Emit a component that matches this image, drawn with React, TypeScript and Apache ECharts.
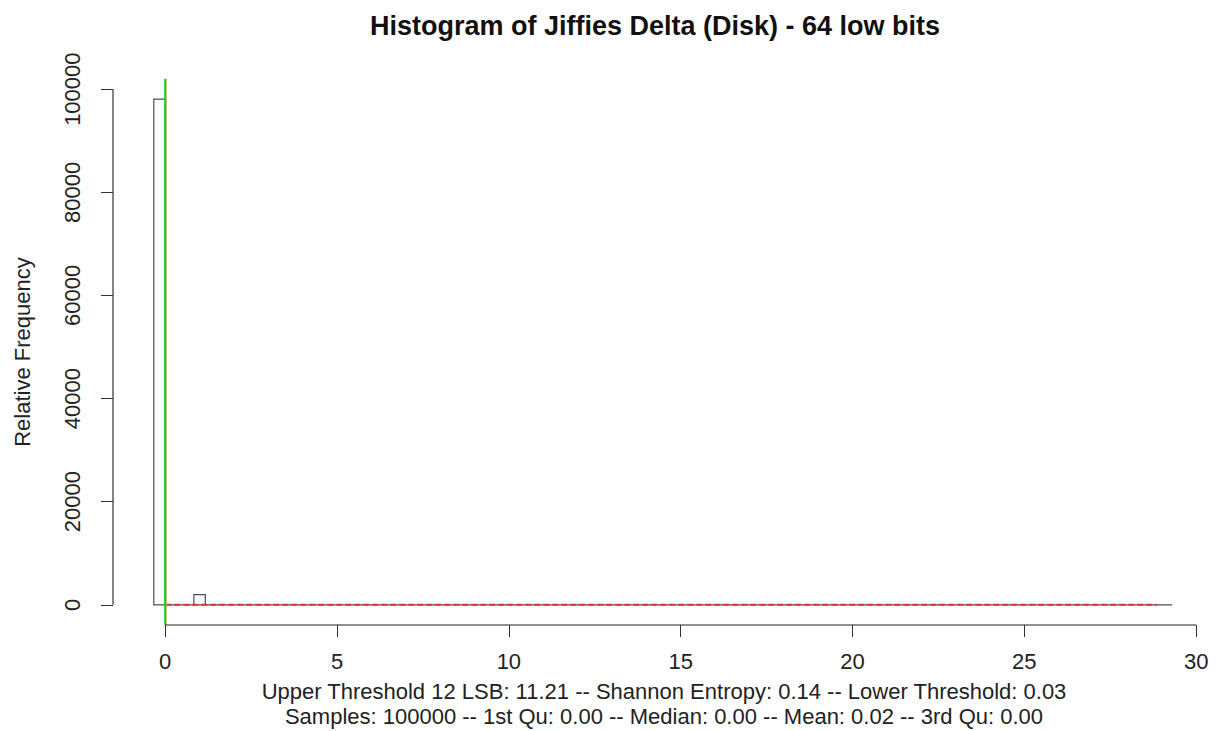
import React, { useEffect, useRef } from "react";
import * as echarts from "echarts";

const binLeft = [-0.333, 0, 0.833, 1.167];
const binRight = [0, 0.833, 1.167, 29.3];
const counts = [98050, 0, 1950, 0];

const xTicks = [0, 5, 10, 15, 20, 25, 30];
const yTicks = [0, 20000, 40000, 60000, 80000, 100000];

const densityLine = [
  [0, 0],
  [28.85, 0],
];
const medianX = 0;
const lowerThreshold = 0.03;

const xRange = [-1.52, 30.52];
const yRange = [-3922, 101972];

const titleText = "Histogram of Jiffies Delta (Disk) - 64 low bits";
const yName = "Relative Frequency";
const line1 =
  "Upper Threshold 12 LSB: 11.21 -- Shannon Entropy: 0.14 -- Lower Threshold: 0.03";
const line2 =
  "Samples: 100000 -- 1st Qu: 0.00 -- Median: 0.00 -- Mean: 0.02 -- 3rd Qu: 0.00";

const FONT = "'Liberation Sans', Arial, Helvetica, sans-serif";

export default function App() {
  const ref = useRef<HTMLDivElement>(null);
  useEffect(() => {
    if (!ref.current) return;
    const chart = echarts.init(ref.current, undefined, { renderer: "svg" });
    const histData = binLeft.map((l, i) => [l, binRight[i], counts[i]]);
    const option: any = {
      animation: false,
      backgroundColor: "#ffffff",
      grid: { left: 113, right: 5, top: 79, bottom: 106, containLabel: false },
      xAxis: {
        type: "value",
        min: xRange[0],
        max: xRange[1],
        axisLine: { show: false, onZero: false },
        splitLine: { show: false },
        axisTick: {
          show: true,
          customValues: xTicks,
          length: 12,
          lineStyle: { color: "#333", width: 1 },
        },
        axisLabel: {
          customValues: xTicks,
          formatter: (v: number) => String(v),
          fontFamily: FONT,
          fontSize: 22,
          color: "#222",
          margin: 25,
        },
      },
      yAxis: {
        type: "value",
        min: yRange[0],
        max: yRange[1],
        axisLine: { show: false, onZero: false },
        splitLine: { show: false },
        axisTick: {
          show: true,
          customValues: yTicks,
          length: 12,
          lineStyle: { color: "#333", width: 1 },
        },
        axisLabel: {
          customValues: yTicks,
          formatter: (v: number) => String(v),
          rotate: 90,
          fontFamily: FONT,
          fontSize: 22,
          color: "#222",
          margin: 30,
        },
      },
      series: [
        {
          type: "custom",
          data: histData,
          clip: false,
          renderItem: (params: any, api: any) => {
            const x0 = api.value(0);
            const x1 = api.value(1);
            const c = api.value(2);
            const p0 = api.coord([x0, 0]);
            const p1 = api.coord([x1, c]);
            return {
              type: "rect",
              shape: {
                x: p0[0],
                y: p1[1],
                width: p1[0] - p0[0],
                height: p0[1] - p1[1],
              },
              style: { fill: "none", stroke: "#4d4d4d", lineWidth: 1.2 },
            };
          },
          z: 2,
        },
        {
          type: "line",
          data: densityLine,
          symbol: "none",
          lineStyle: { color: "#e8303a", width: 2, type: [6, 3] },
          z: 3,
        },
        {
          type: "line",
          data: [
            [lowerThreshold, yRange[0]],
            [lowerThreshold, yRange[1]],
          ],
          symbol: "none",
          lineStyle: { color: "#f4a0a0", width: 1 },
          z: 4,
        },
        {
          type: "line",
          data: [
            [medianX, yRange[0]],
            [medianX, yRange[1]],
          ],
          symbol: "none",
          lineStyle: { color: "#00e000", width: 2 },
          z: 5,
        },
        {
          type: "line",
          clip: false,
          data: [
            [xTicks[0], yRange[0]],
            [xTicks[xTicks.length - 1], yRange[0]],
          ],
          symbol: "none",
          lineStyle: { color: "#222", width: 1.2 },
          z: 6,
        },
        {
          type: "line",
          clip: false,
          data: [
            [xRange[0], yTicks[0]],
            [xRange[0], yTicks[yTicks.length - 1]],
          ],
          symbol: "none",
          lineStyle: { color: "#333", width: 1.2 },
          z: 6,
        },
      ],
      graphic: [
        {
          type: "text",
          x: 655,
          y: 26,
          style: {
            text: titleText,
            font: `bold 27px ${FONT}`,
            fill: "#111",
            align: "center",
            verticalAlign: "middle",
            textAlign: "center",
            textVerticalAlign: "middle",
          },
        },
        {
          type: "text",
          x: 22,
          y: 352,
          rotation: Math.PI / 2,
          style: {
            text: yName,
            font: `22px ${FONT}`,
            fill: "#222",
            align: "center",
            verticalAlign: "middle",
            textAlign: "center",
            textVerticalAlign: "middle",
          },
        },
        {
          type: "text",
          x: 664,
          y: 691,
          style: {
            text: line1,
            font: `22px ${FONT}`,
            fill: "#222",
            align: "center",
            verticalAlign: "middle",
            textAlign: "center",
            textVerticalAlign: "middle",
          },
        },
        {
          type: "text",
          x: 664,
          y: 716,
          style: {
            text: line2,
            font: `22px ${FONT}`,
            fill: "#222",
            align: "center",
            verticalAlign: "middle",
            textAlign: "center",
            textVerticalAlign: "middle",
          },
        },
      ],
    };
    chart.setOption(option);
    return () => chart.dispose();
  }, []);
  return (
    <div
      ref={ref}
      style={{ position: "fixed", left: 0, top: 0, width: 1219, height: 731 }}
    />
  );
}
